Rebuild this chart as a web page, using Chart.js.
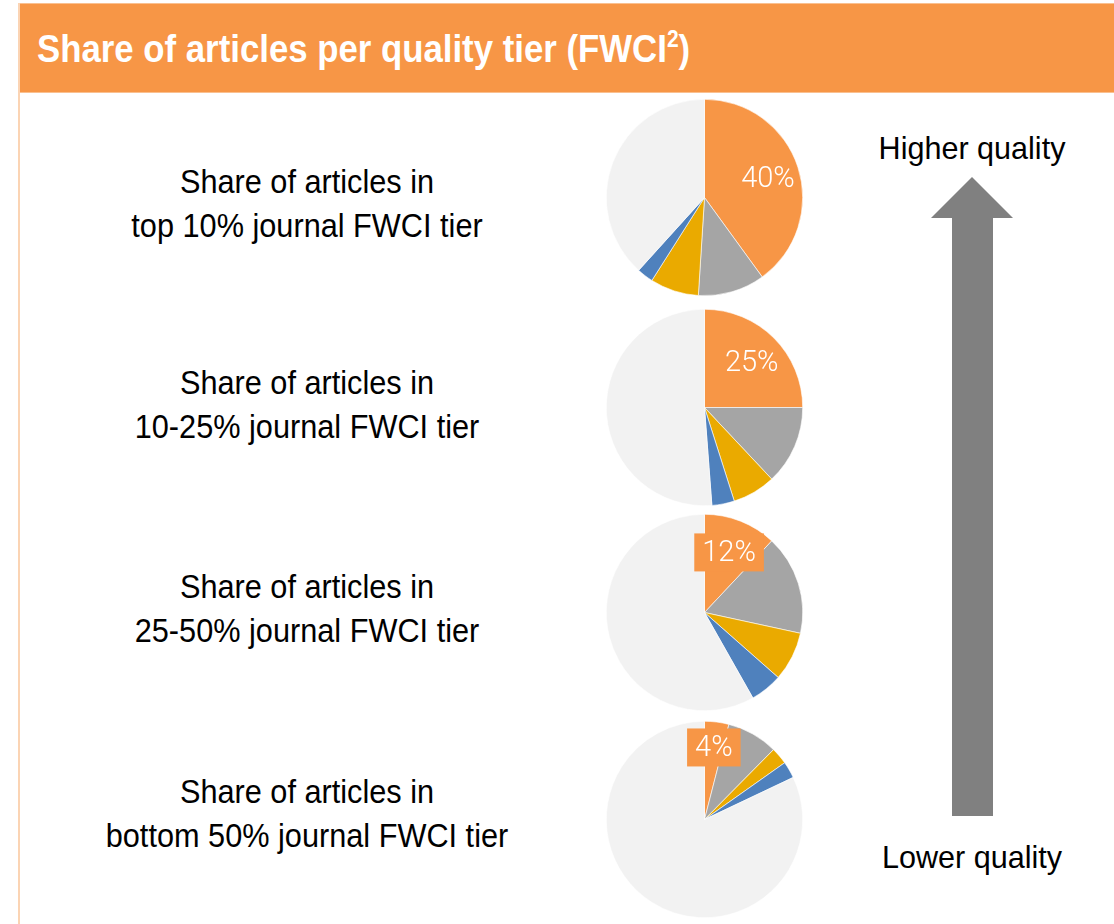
<!DOCTYPE html>
<html>
<head>
<meta charset="utf-8">
<script src="https://cdn.jsdelivr.net/npm/chart.js@4/dist/chart.umd.min.js"></script>
<style>
  body { margin: 0; background: #fff; width: 1114px; height: 924px; position: relative; overflow: hidden; }
  #header { position: absolute; left: 20px; top: 3px; width: 1100px; height: 90px; background: #F79646;
            border-top: 1px solid #FAC090; border-bottom: 1px solid #FAC090; box-sizing: border-box; }
  #header span { position: absolute; left: 17px; top: 24px; color: #fff; font: bold 38px "Liberation Sans", Arial, sans-serif;
                 white-space: nowrap; transform: scaleX(0.915); transform-origin: left center; }
  #header sup { font-size: 23px; vertical-align: 15px; line-height: 0; }
  #sideline { position: absolute; left: 18px; top: 3px; width: 2px; height: 930px; background: #FBD4B4; }
  .tier { position: absolute; left: 50px; width: 514px; text-align: center; color: #000; white-space: nowrap;
          font: 33px "Liberation Sans", Arial, sans-serif; line-height: 44px; transform: scaleX(0.93); }
  .pie { position: absolute; left: 606px; width: 197px; height: 197px; }
  .quality { position: absolute; left: 852px; width: 240px; text-align: center; color: #000; white-space: nowrap;
             font: 32px "Liberation Sans", Arial, sans-serif; transform: scaleX(0.955); }
  #arrow { position: absolute; left: 0; top: 0; }
</style>
</head>
<body>
<div id="sideline"></div>
<div id="header"><span>Share of articles per quality tier (FWCI<sup>2</sup>)</span></div>

<svg id="arrow" width="1114" height="924">
  <polygon points="972,177 1013,218 993,218 993,816 952,816 952,218 931,218" fill="#808080"/>
</svg>
<div class="quality" style="top:130px">Higher quality</div>
<div class="quality" style="top:839px">Lower quality</div>

<script>
const tiers = ['top 10%', '10-25%', '25-50%', 'bottom 50%'];
const orangeShare = [40, 25, 12, 4];
const grayShare = [11, 13, 16.4, 8.4];
const goldShare = [8, 7.1, 8.1, 2.8];
const blueShare = [2.7, 3.7, 5.3, 2.75];
const restShare = [38.3, 51.2, 58.2, 82.05];
const sliceColors = ['#F79646', '#A5A5A5', '#EAAA00', '#4F81BD', '#F2F2F2'];

const pieTops = [99, 309, 514, 721];
const labelTops = [160, 361, 565, 770];

// label on the orange slice, boxed when the slice is too narrow for the text
const orangeLabel = {
  id: 'orangeLabel',
  afterDatasetsDraw(chart) {
    const arc = chart.getDatasetMeta(0).data[0];
    const value = chart.data.datasets[0].data[0];
    const mid = (arc.startAngle + arc.endAngle) / 2;
    const r = arc.outerRadius * (value < 10 ? 0.76 : 0.68);
    const x = arc.x + Math.cos(mid) * r;
    const y = arc.y + Math.sin(mid) * r + 2;
    const text = value + '%';
    const ctx = chart.ctx;
    ctx.save();
    ctx.font = '300 29px Roboto, "Liberation Sans", sans-serif';
    const w = ctx.measureText(text).width;
    if (value < 20) {
      ctx.fillStyle = sliceColors[0];
      ctx.fillRect(x - w / 2 - 8, y - 19, w + 16, 38);
    }
    ctx.fillStyle = '#fff';
    ctx.textAlign = 'center';
    ctx.textBaseline = 'middle';
    ctx.fillText(text, x, y + 1);
    ctx.restore();
  }
};

tiers.forEach((tier, i) => {
  const label = document.createElement('div');
  label.className = 'tier';
  label.style.top = labelTops[i] + 'px';
  label.innerHTML = 'Share of articles in<br>' + tier + ' journal FWCI tier';
  document.body.appendChild(label);

  const canvas = document.createElement('canvas');
  canvas.className = 'pie';
  canvas.width = 197;
  canvas.height = 197;
  canvas.style.top = pieTops[i] + 'px';
  document.body.appendChild(canvas);

  new Chart(canvas.getContext('2d'), {
    type: 'pie',
    data: {
      labels: ['a', 'b', 'c', 'd', 'e'],
      datasets: [{
        data: [orangeShare[i], grayShare[i], goldShare[i], blueShare[i], restShare[i]],
        backgroundColor: sliceColors,
        borderColor: '#ffffff',
        borderWidth: 0.6
      }]
    },
    options: {
      responsive: false,
      animation: false,
      layout: { padding: 0 },
      plugins: {
        legend: { display: false },
        tooltip: { enabled: false }
      }
    },
    plugins: [orangeLabel]
  });
});
</script>
</body>
</html>
